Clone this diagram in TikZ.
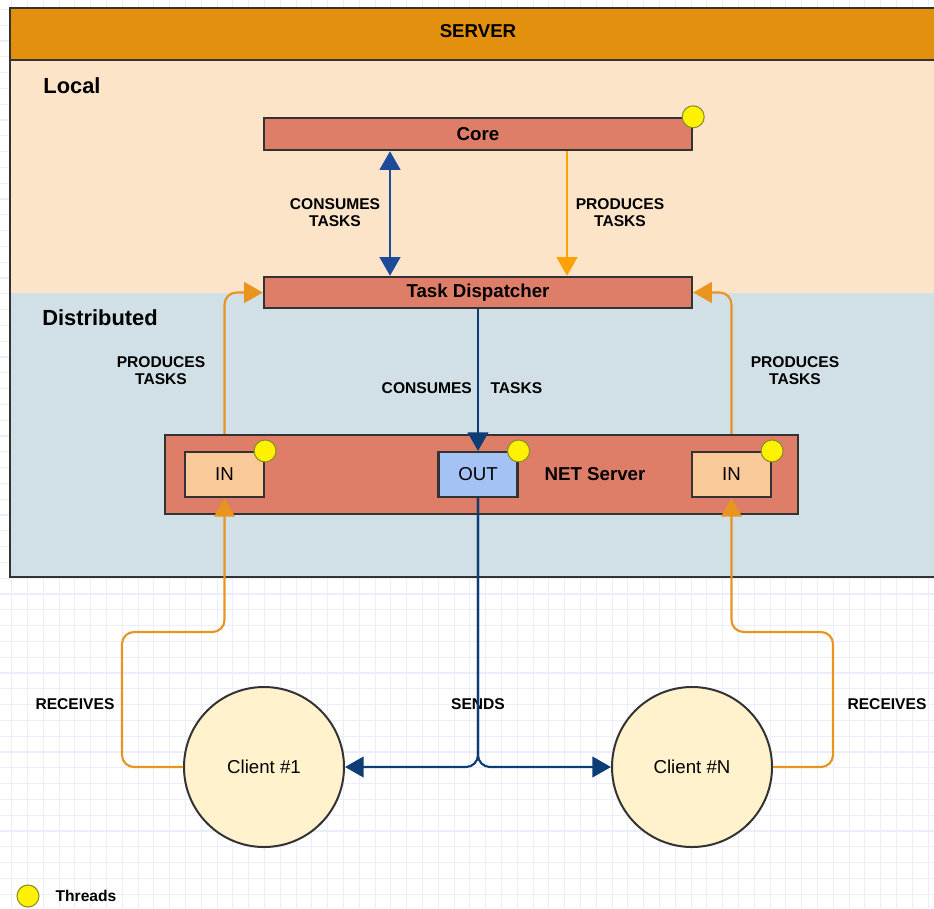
\documentclass[tikz,border=0pt]{standalone}
\usepackage{fontspec}
\setmainfont{Liberation Sans}
\usetikzlibrary{arrows.meta}

\definecolor{srvorange}{HTML}{E3900F}
\definecolor{localfill}{HTML}{FCE4C9}
\definecolor{distfill}{HTML}{D1E0E6}
\definecolor{boxred}{HTML}{DF7E68}
\definecolor{infill}{HTML}{F9C99A}
\definecolor{outfill}{HTML}{A4C2F4}
\definecolor{clientfill}{HTML}{FFF2CC}
\definecolor{prodorange}{HTML}{FFA200}
\definecolor{recvorange}{HTML}{E8941F}
\definecolor{consblue}{HTML}{1E4A9A}
\definecolor{sendblue}{HTML}{0D3D75}
\definecolor{gridcol}{HTML}{ECECFB}
\definecolor{edge}{HTML}{333333}

\begin{document}
\begin{tikzpicture}[x=0.75pt,y=-0.75pt,
  tip/.style={-{Triangle[length=14pt,width=15.5pt]}},
  flow/.style={line width=1.6pt, rounded corners=9pt},
  blk/.style={draw=edge, line width=1.8pt, fill=boxred, inner sep=0pt,
    font=\bfseries\fontsize{14}{16}\selectfont},
  port/.style={draw=edge, line width=1.6pt, inner sep=0pt,
    minimum width=59.25pt, minimum height=33.75pt, font=\fontsize{14}{16}\selectfont},
  client/.style={circle, draw=edge, line width=1.5pt, fill=clientfill,
    minimum size=120pt, inner sep=0pt, font=\fontsize{14}{16}\selectfont},
  thread/.style={circle, draw={rgb,255:red,140;green,140;blue,40}, line width=0.8pt,
    fill=yellow, minimum size=16.5pt, inner sep=0pt},
  lbl/.style={align=center, font=\bfseries\fontsize{11.7}{12.75}\selectfont},
  area/.style={font=\bfseries\fontsize{16.4}{18}\selectfont}]
\clip (0,0) rectangle (934,908);

% background grid
\foreach \gx in {11.7,27.5,...,934}
  \draw[gridcol, line width=0.8pt] (\gx,0) -- (\gx,908);
\foreach \gy in {9.4,25.2,...,908}
  \draw[gridcol, line width=0.8pt] (0,\gy) -- (934,\gy);

% server frame
\fill[localfill] (10,60) rectangle (950,293);
\fill[distfill] (10,293) rectangle (950,577);
\draw[edge, line width=1.8pt, fill=srvorange] (10,8) rectangle (950,60);
\draw[edge, line width=1.8pt] (10,8) rectangle (950,577);
\node[font=\bfseries\fontsize{14}{16}\selectfont] (srv) at (478,31) {SERVER};
\node[area] (local) at (72,86) {Local};
\node[area] (dist) at (100,318) {Distributed};

% blocks
\node[blk, minimum width=321pt, minimum height=24pt] (core) at (478,134) {Core};
\node[blk, minimum width=321pt, minimum height=23.25pt] (disp) at (478,292.5) {Task Dispatcher};
\node[blk, minimum width=474.75pt, minimum height=59.25pt] (net) at (481.5,474.5) {};
\node[port, fill=infill] (inL) at (224.5,474.5) {IN};
\node[port, fill=outfill] (out) at (478,474.5) {OUT};
\node[port, fill=infill] (inR) at (731.5,474.5) {IN};
\node[font=\bfseries\fontsize{14}{16}\selectfont] (nettxt) at (595,474) {NET Server};

\node[client] (c1) at (264,767) {Client \#1};
\node[client] (cN) at (692,767) {Client \#N};

% threads
\node[thread] (t0) at (core.north east) {};
\node[thread] (t1) at (inL.north east) {};
\node[thread] (t2) at (out.north east) {};
\node[thread] (t3) at (inR.north east) {};
\node[thread] (leg) at (28,896) {};
\node[font=\bfseries\fontsize{11.7}{14}\selectfont] (legtxt) at (86,896) {Threads};

% labels
\node[lbl] (l1) at (335,213) {CONSUMES\\TASKS};
\node[lbl] (l2) at (620,213) {PRODUCES\\TASKS};
\node[lbl] (l3) at (161,371) {PRODUCES\\TASKS};
\node[lbl] (l4) at (795,371) {PRODUCES\\TASKS};
\node[lbl] (l5) at (462,388) {CONSUMES\hspace{14pt}TASKS};
\node[lbl] (l6) at (75,704) {RECEIVES};
\node[lbl] (l7) at (887,704) {RECEIVES};
\node[lbl] (l8) at (478,704) {SENDS};

% local flows
\draw[flow, consblue, {Triangle[length=14pt,width=15.5pt]}-{Triangle[length=14pt,width=15.5pt]}]
  ([xshift=-66pt]core.south) -- ([xshift=-66pt]disp.north);
\draw[flow, prodorange, tip] ([xshift=66.75pt]core.south) -- ([xshift=66.75pt]disp.north);

% distributed flows
\draw[flow, sendblue, tip] (disp.south) -- (out.north);
\draw[flow, recvorange, tip] (inL.north |- net.north) |- (disp.west);
\draw[flow, recvorange, tip] (inR.north |- net.north) |- (disp.east);

% client flows
\coordinate (bendL) at (122,632);
\coordinate (bendR) at (833,632);
\draw[flow, recvorange, tip] (c1.west) -| (bendL) -| (inL.south);
\draw[flow, recvorange, tip] (cN.east) -| (bendR) -| (inR.south);
\draw[flow, sendblue, tip] (out.south) |- (c1.east);
\draw[flow, sendblue, tip] (out.south) |- (cN.west);
\end{tikzpicture}
\end{document}
